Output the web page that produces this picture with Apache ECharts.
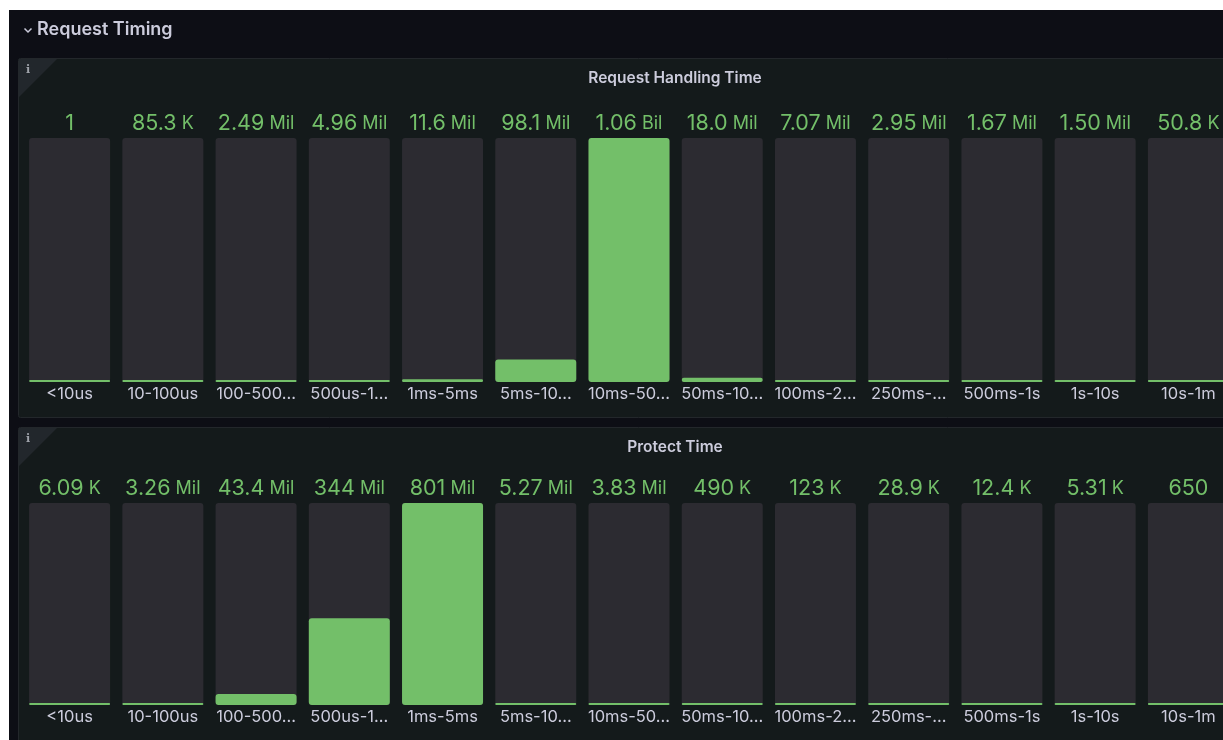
<!DOCTYPE html>
<html>
<head>
<meta charset="utf-8">
<script src="https://cdn.jsdelivr.net/npm/echarts@6/dist/echarts.min.js"></script>
<style>
html,body{margin:0;padding:0;background:#ffffff;overflow:hidden;}
#chart{width:1260px;height:740px;}
</style>
</head>
<body>
<div id="chart"></div>
<script>
var categories = ["<10us","10-100us","100-500us","500us-1ms","1ms-5ms","5ms-10ms","10ms-50ms","50ms-100ms","100ms-250ms","250ms-500ms","500ms-1s","1s-10s","10s-1m"];
var handlingValues = [1, 85300, 2490000, 4960000, 11600000, 98100000, 1060000000, 18000000, 7070000, 2950000, 1670000, 1500000, 50800];
var protectValues = [6090, 3260000, 43400000, 344000000, 801000000, 5270000, 3830000, 490000, 123000, 28900, 12400, 5310, 650];
var sectionTitle = "Request Timing";
var panelTitles = ["Request Handling Time", "Protect Time"];

var GREEN = '#73bf69';
var TEXT = '#ccccdc';
var FONT = 'Inter, Roboto, "Noto Sans", sans-serif';
var CAT_FONT_SIZE = 16.5;
var CAT_MAX_W = 79;
var CAT_TRUNC_W = 85;

var measureCtx = document.createElement('canvas').getContext('2d');
measureCtx.font = CAT_FONT_SIZE + 'px ' + FONT;
function fitLabel(s) {
  if (measureCtx.measureText(s).width <= CAT_MAX_W) return s;
  var t = s;
  while (t.length > 1 && measureCtx.measureText(t + '…').width > CAT_TRUNC_W) t = t.slice(0, -1);
  return t + '…';
}

function fmt(v) {
  if (v >= 1e9) return {n: (v/1e9).toPrecision(3), u: ' Bil'};
  if (v >= 1e6) return {n: (v/1e6).toPrecision(3), u: ' Mil'};
  if (v >= 1e3) return {n: (v/1e3).toPrecision(3), u: ' K'};
  return {n: String(v), u: ''};
}

var chart = echarts.init(document.getElementById('chart'), null, {renderer: 'canvas'});

var gridDefs = [
  {left: 23, width: 1212, top: 138, height: 244},
  {left: 23, width: 1212, top: 503, height: 202}
];
var dataSets = [handlingValues, protectValues];

var xAxes = [], yAxes = [], series = [];
dataSets.forEach(function (vals, i) {
  xAxes.push({
    type: 'category', gridIndex: i, data: categories, position: 'bottom',
    axisLine: {show: false}, axisTick: {show: false}, splitLine: {show: false},
    axisLabel: {
      interval: 0, margin: 4, color: TEXT, fontSize: CAT_FONT_SIZE, fontFamily: FONT,
      formatter: function (val) { return fitLabel(val); }
    }
  });
  xAxes.push({
    type: 'category', gridIndex: i, data: categories, position: 'top',
    axisLine: {show: false}, axisTick: {show: false}, splitLine: {show: false},
    axisLabel: {
      interval: 0, margin: 3, fontFamily: FONT,
      formatter: (function (arr) {
        return function (val, idx) {
          var f = fmt(arr[idx]);
          return '{n|' + f.n + '}' + (f.u ? '{u|' + f.u + '}' : '');
        };
      })(vals),
      rich: {
        n: {fontSize: 21.5, color: GREEN, fontFamily: FONT},
        u: {fontSize: 18, color: GREEN, fontFamily: FONT}
      }
    }
  });
  yAxes.push({
    type: 'value', gridIndex: i, min: 0, max: 'dataMax', show: false,
    splitLine: {show: false}
  });
  series.push({
    type: 'bar', xAxisIndex: i * 2, yAxisIndex: i, data: vals,
    barWidth: 81, barMinHeight: 2,
    itemStyle: {color: GREEN, borderRadius: 3},
    showBackground: true,
    backgroundStyle: {color: '#2c2b31', borderRadius: 3},
    silent: true, animation: false
  });
});

var graphics = [
  {type: 'rect', shape: {x: 9, y: 10, width: 1260, height: 730}, style: {fill: '#0d0e15'}, z: -10},
  // panels
  {type: 'rect', shape: {x: 18.5, y: 58.5, width: 1240, height: 359, r: 2}, style: {fill: '#141a1b', stroke: '#23272b', lineWidth: 1}, z: -9},
  {type: 'rect', shape: {x: 18.5, y: 427.5, width: 1240, height: 340, r: 2}, style: {fill: '#141a1b', stroke: '#23272b', lineWidth: 1}, z: -9},
  // info corners
  {type: 'polygon', shape: {points: [[19, 59], [57, 59], [19, 97]]}, style: {fill: '#22272c'}, z: -8},
  {type: 'polygon', shape: {points: [[19, 428], [57, 428], [19, 466]]}, style: {fill: '#22272c'}, z: -8},
  {type: 'text', x: 28, y: 70, style: {text: 'i', fill: '#9fa3aa', font: 'bold 11px "DejaVu Serif", serif', align: 'center', verticalAlign: 'middle'}},
  {type: 'text', x: 28, y: 439, style: {text: 'i', fill: '#9fa3aa', font: 'bold 11px "DejaVu Serif", serif', align: 'center', verticalAlign: 'middle'}},
  // section header
  {type: 'polyline', shape: {points: [[24.5, 28.5], [28, 32], [31.5, 28.5]]}, style: {stroke: TEXT, lineWidth: 1.5, fill: null}},
  {type: 'text', x: 37, y: 30, style: {text: sectionTitle, fill: TEXT, font: '600 18px ' + FONT, verticalAlign: 'middle'}},
  // panel titles
  {type: 'text', x: 675, y: 78, style: {text: panelTitles[0], fill: TEXT, font: '600 15.5px ' + FONT, align: 'center', verticalAlign: 'middle'}},
  {type: 'text', x: 675, y: 447, style: {text: panelTitles[1], fill: TEXT, font: '600 15.5px ' + FONT, align: 'center', verticalAlign: 'middle'}}
];

chart.setOption({
  backgroundColor: '#ffffff',
  animation: false,
  grid: gridDefs,
  xAxis: xAxes,
  yAxis: yAxes,
  series: series,
  graphic: graphics
});
</script>
</body>
</html>
